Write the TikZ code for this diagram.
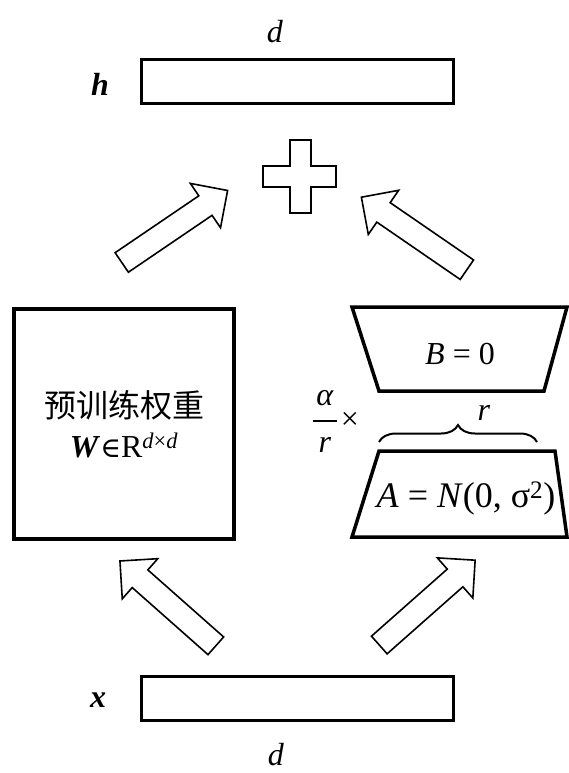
\documentclass[tikz,border=0pt]{standalone}
\usepackage{fontspec}
\setmainfont{Liberation Serif}
\newfontfamily\zhfont{Noto Sans CJK SC}
\newfontfamily\symfont{DejaVu Serif}
\usetikzlibrary{shapes.arrows,decorations.pathreplacing}
\tikzset{
  vec/.style  = {draw, line width=3pt, minimum width=312pt, minimum height=44pt,
                 inner sep=0pt},
  wbox/.style = {draw, line width=3.5pt, minimum width=220pt, minimum height=230pt,
                 align=center, font=\fontsize{32}{42}\selectfont},
  trap/.style = {draw, line width=3.5pt, line join=miter},
  flow/.style = {single arrow, draw, line width=1.6pt, minimum height=128pt,
                 inner sep=11pt, single arrow head extend=15pt,
                 single arrow tip angle=90, fill=white},
  lab/.style  = {font=\fontsize{32}{38}\selectfont, inner sep=0pt},
  brc/.style  = {decorate, decoration={brace, amplitude=17pt}, line width=2pt},
  sumsign/.style = {draw, line width=1.8pt}
}
\begin{document}
\begin{tikzpicture}[x=1pt, y=-1pt]
  \useasboundingbox (0,0) rectangle (569,773);
  % input and output vectors
  \node[vec] (h) at (297.5,81.5) {};
  \node[vec] (x) at (297.5,698) {};
  \node[lab] (hlab) at (100,84) {\textbf{\textit{h}}};
  \node[lab] (xlab) at (98,700) {\textbf{\textit{x}}};
  \node[lab] (dtop) at (275,32) {\textit{d}};
  \node[lab] (dbot) at (276,755) {\textit{d}};
  % frozen weights
  \node[wbox] (W) at (124,424)
    {{\zhfont 预训练权重}\\[-2pt]
     \textbf{\textit{W}}{\symfont\fontsize{28}{30}\selectfont ∈}R\textsuperscript{\textit{d}×\textit{d}}};
  % low-rank branch
  \draw[trap] (352,307) -- (567,307) -- (544,391) -- (379,391) -- cycle;
  \draw[trap] (379,451) -- (555,451) -- (567,537) -- (352,537) -- cycle;
  \node[lab] (B) at (460,354) {\textit{B} = 0};
  \node[lab, font=\fontsize{36}{40}\selectfont] (A) at (466,498)
    {\textit{A} = \textit{N}(0, σ\textsuperscript{2})};
  \draw[brc] (379,442) -- (537,442);
  \node[lab] (r) at (484,413) {\textit{r}};
  % scaling factor alpha / r
  \node[lab] (alpha) at (325,398) {\textit{α}};
  \node[lab] (rden) at (325,445) {\textit{r}};
  \draw[line width=1.6pt] (313,421) -- (337,421);
  \node[lab] (times) at (350,421) {×};
  % sum
  \coordinate (sum) at (300.5,176.5);
  \draw[sumsign] (sum) ++(-10.5,-36.5) -- ++(21,0) -- ++(0,26) -- ++(25,0)
    -- ++(0,21) -- ++(-25,0) -- ++(0,26) -- ++(-21,0) -- ++(0,-26)
    -- ++(-27,0) -- ++(0,-21) -- ++(27,0) -- cycle;
  % block arrows
  \node[flow, rotate=138.5] (xw) at (172.3,607.3) {};
  \node[flow, rotate=41.5]  (xa) at (422.8,606.5) {};
  \node[flow, rotate=34.2]  (wh) at (169.8,229.8) {};
  \node[flow, rotate=145.5] (bh) at (419,236.8) {};
\end{tikzpicture}
\end{document}
